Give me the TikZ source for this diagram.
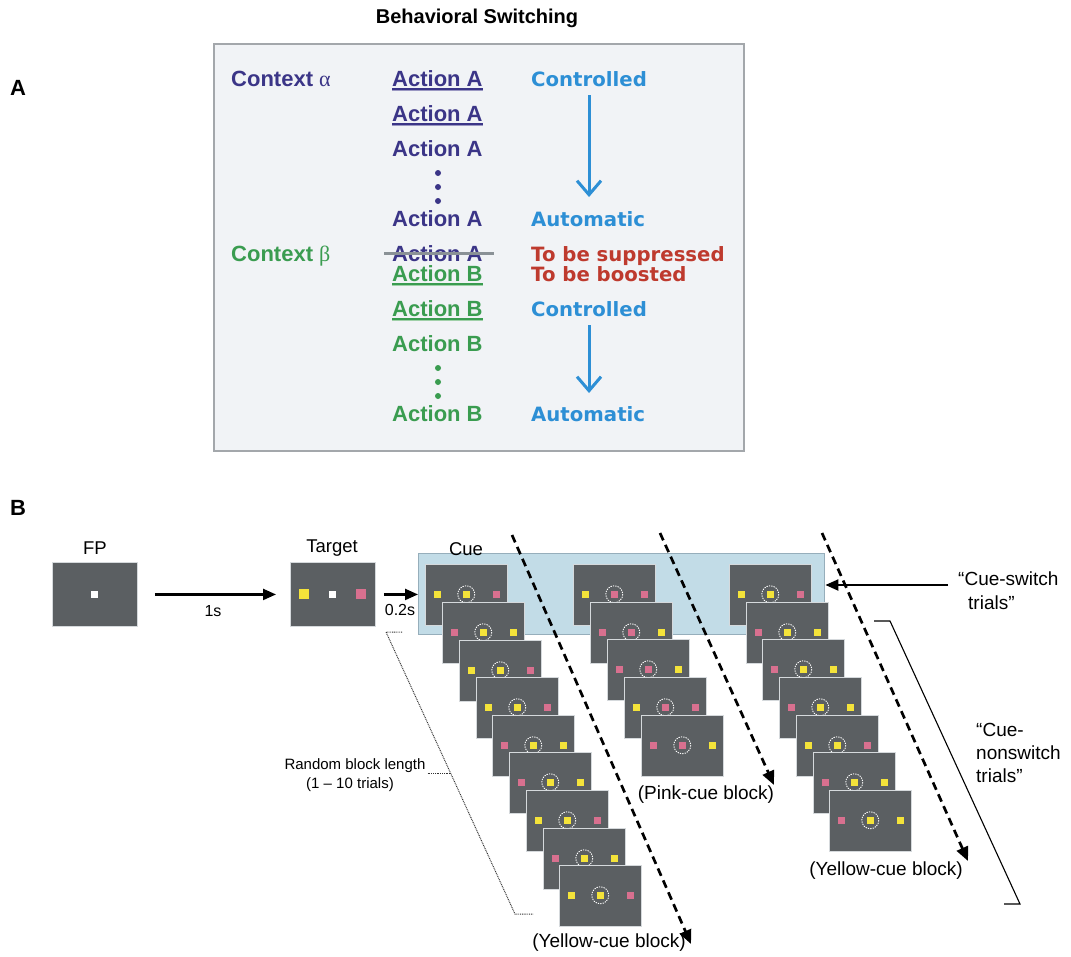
\documentclass[tikz,border=0pt]{standalone}
\usepackage{fontspec}
\setmainfont{Liberation Sans}
\newfontfamily\comic{DejaVu Sans}
\newfontfamily\greekf{Liberation Serif}
\usetikzlibrary{arrows.meta,calc}
\definecolor{apurple}{HTML}{3B3587}
\definecolor{apurplel}{HTML}{9A97C2}
\definecolor{agreen}{HTML}{3A9C50}
\definecolor{agreenl}{HTML}{9FD0A8}
\definecolor{ablue}{HTML}{2D8FD5}
\definecolor{ared}{HTML}{BE3A2E}
\definecolor{panelbg}{HTML}{F1F3F6}
\definecolor{panelbd}{HTML}{A3A7AB}
\definecolor{scrfill}{HTML}{5B5F62}
\definecolor{scrbd}{HTML}{D5D9DC}
\definecolor{cyel}{HTML}{F4E33A}
\definecolor{cpink}{HTML}{D8708F}
\definecolor{cuebg}{HTML}{C2DCE7}
\definecolor{cuebd}{HTML}{96AEBB}
\definecolor{strikec}{HTML}{8A9196}
\colorlet{Y}{cyel}
\colorlet{P}{cpink}
\tikzset{
  hdr/.style={font=\fontsize{20}{24}\selectfont\bfseries, inner sep=0},
  actstyle/.style={font=\fontsize{22}{26}\selectfont\bfseries, anchor=base west, inner sep=0},
  ctlstyle/.style={font=\comic\fontsize{19.7}{24}\selectfont\bfseries, anchor=base west, inner sep=0},
  lbl/.style={font=\fontsize{19}{23}\selectfont, inner sep=0},
  smalllbl/.style={font=\fontsize{15}{18}\selectfont, inner sep=0},
  screen/.style={draw=scrbd, fill=scrfill, line width=0.9pt, minimum width=82pt, minimum height=61pt, inner sep=0, anchor=north west},
  bigscreen/.style={draw=scrbd, fill=scrfill, line width=0.9pt, minimum width=85pt, minimum height=64pt, inner sep=0, anchor=north west},
  cuering/.style={draw=white, line width=0.9pt, dash pattern=on 1.3pt off 1.1pt},
  barrow/.style={draw=ablue, line width=3pt, -{Straight Barb[length=14pt,width=24pt]}},
  solidarr/.style={draw=black, line width=2.2pt, -{Triangle[length=13pt,width=11pt]}},
  dasharr/.style={draw=black, line width=2.7pt, dash pattern=on 8pt off 5pt, -{Triangle[length=14pt,width=12pt]}},
  bracketline/.style={draw=black, line width=1.1pt},
  dotline/.style={draw=black!80, line width=1pt, dash pattern=on 0.9pt off 0.9pt},
}
\newcommand\Scr[6]{%
  \node[screen] (#1) at (#2,#3) {};
  \fill[#4] ($(#1.north west)+(8.5,26.5)$) rectangle ++(7,7);
  \fill[#5] ($(#1.north west)+(37.5,26.5)$) rectangle ++(7.5,7.5);
  \fill[#6] ($(#1.north west)+(67.5,26.5)$) rectangle ++(7,7);
  \draw[cuering] ($(#1.north west)+(41.25,30.25)$) circle[radius=8.5];
}
\begin{document}
\begin{tikzpicture}[x=1pt,y=-1pt]
\useasboundingbox (0,0) rectangle (1071,956);
% ---------- Panel A ----------
\node[hdr] (title) at (477,18) {Behavioral Switching};
\node[hdr, font=\fontsize{22}{26}\selectfont\bfseries] (labA) at (18,88) {A};
\node[hdr, font=\fontsize{22}{26}\selectfont\bfseries] (labB) at (18,508) {B};
\node[draw=panelbd, fill=panelbg, line width=1.6pt, minimum width=530pt, minimum height=407pt, anchor=north west, inner sep=0] (boxA) at (213,43) {};

\node[actstyle, text=apurple] (ctxa) at (231,86) {Context {\greekf\mdseries α}};
\node[actstyle, text=agreen] (ctxb) at (231,261) {Context {\greekf\mdseries β}};

\node[actstyle, text=apurple] (a1) at (392,86) {Action A};
\node[actstyle, text=apurple] (a2) at (392,121) {Action A};
\node[actstyle, text=apurple] (a3) at (392,156) {Action A};
\node[actstyle, text=apurple] (a4) at (392,226) {Action A};
\node[actstyle, text=apurple] (a5) at (392,261) {Action A};
\node[actstyle, text=agreen] (b1) at (392,281) {Action B};
\node[actstyle, text=agreen] (b2) at (392,316) {Action B};
\node[actstyle, text=agreen] (b3) at (392,351) {Action B};
\node[actstyle, text=agreen] (b4) at (392,421) {Action B};

% underlines
\foreach \n in {a1,a2} {
  \draw[apurple, line width=1.4pt] ($(\n.base west)+(0,3)$) -- ($(\n.base east)+(0,3)$);
  \draw[apurplel, line width=1.2pt] ($(\n.base west)+(0,4.6)$) -- ($(\n.base east)+(0,4.6)$);
}
\foreach \n in {b1,b2} {
  \draw[agreen, line width=1.4pt] ($(\n.base west)+(0,3)$) -- ($(\n.base east)+(0,3)$);
  \draw[agreenl, line width=1.2pt] ($(\n.base west)+(0,4.6)$) -- ($(\n.base east)+(0,4.6)$);
}
% strike
\draw[strikec, line width=3pt] ($(a5.base west)+(-8,-7.5)$) -- ($(a5.base east)+(11,-7.5)$);

% dots
\foreach \yy in {173,187,201} \fill[apurple] (438,\yy) circle[radius=3];
\foreach \yy in {368,382,396} \fill[agreen] (438,\yy) circle[radius=3];

\node[ctlstyle, text=ablue] (k1) at (531,86) {Controlled};
\node[ctlstyle, text=ablue] (k2) at (531,226) {Automatic};
\node[ctlstyle, text=ared] (k3) at (531,261) {To be suppressed};
\node[ctlstyle, text=ared] (k4) at (531,281) {To be boosted};
\node[ctlstyle, text=ablue] (k5) at (531,316) {Controlled};
\node[ctlstyle, text=ablue] (k6) at (531,421) {Automatic};

\draw[barrow] ($(k1.base)+(0,9)$) -- ($(k1.base |- k2.base)+(0,-29)$);
\draw[barrow] ($(k5.base)+(0,9)$) -- ($(k5.base |- k6.base)+(0,-28)$);

% ---------- Panel B ----------
\node[lbl, font=\fontsize{18.5}{22}\selectfont] (fpl) at (95,548) {FP};
\node[lbl, font=\fontsize{18.5}{22}\selectfont] (tgl) at (332,548) {Target};

\node[bigscreen] (fp) at (52,562) {};
\fill[white] ($(fp.center)+(-3.5,-3.5)$) rectangle ++(7,7);
\node[bigscreen] (tgt) at (290,562) {};
\fill[cyel] ($(tgt.center)+(-34,-5)$) rectangle ++(10,10);
\fill[white] ($(tgt.center)+(-3.5,-3.5)$) rectangle ++(7,7);
\fill[cpink] ($(tgt.center)+(23,-5)$) rectangle ++(10,10);

\draw[solidarr, shorten <=17pt, shorten >=14pt] (fp.east) -- (tgt.west);
\node[lbl, font=\fontsize{16}{19}\selectfont] (t1) at (213,611) {1s};

\node[draw=cuebd, fill=cuebg, line width=1.4pt, minimum width=406pt, minimum height=81pt, anchor=north west, inner sep=0] (cuebox) at (418,553) {};
\node[lbl, font=\fontsize{18.5}{22}\selectfont] (cul) at (466,549) {Cue};

\draw[solidarr, shorten <=8pt] (tgt.east) -- (tgt.east -| cuebox.west);
\node[lbl, font=\fontsize{16}{19}\selectfont] (t2) at (400,610) {0.2s};

% column 1
\foreach \i/\x/\y/\l/\c/\r in {1/425/564/Y/Y/P, 2/442/602/P/Y/Y, 3/459/640/Y/Y/P, 4/476/677/Y/Y/P, 5/492/715/P/Y/Y, 6/509/752/P/Y/Y, 7/526/790/Y/Y/P, 8/543/828/P/Y/Y, 9/559/865/Y/Y/P}
  {\Scr{sa\i}{\x}{\y}{\l}{\c}{\r}}
% column 2
\foreach \i/\x/\y/\l/\c/\r in {1/573/564/Y/P/P, 2/590/602/P/P/Y, 3/607/639/P/P/Y, 4/624/677/Y/P/P, 5/641/715/P/P/Y}
  {\Scr{sb\i}{\x}{\y}{\l}{\c}{\r}}
% column 3
\foreach \i/\x/\y/\l/\c/\r in {1/729/564/Y/Y/P, 2/746/602/P/Y/Y, 3/762/639/P/Y/Y, 4/779/677/P/Y/Y, 5/796/715/Y/Y/P, 6/813/752/P/Y/Y, 7/829/790/P/Y/Y}
  {\Scr{sc\i}{\x}{\y}{\l}{\c}{\r}}

% dashed block arrows
\coordinate (d1s) at (512,535); \coordinate (d1e) at (691,944);
\coordinate (d2s) at (660,533); \coordinate (d2e) at (774,785);
\coordinate (d3s) at (822,533); \coordinate (d3e) at (968,861);
\draw[dasharr] (d1s) -- (d1e);
\draw[dasharr] (d2s) -- (d2e);
\draw[dasharr] (d3s) -- (d3e);

\node[lbl] (ycb1) at (609,943) {(Yellow-cue block)};
\node[lbl] (pcb) at (706,795) {(Pink-cue block)};
\node[lbl] (ycb2) at (886,871) {(Yellow-cue block)};

% cue-switch
\node[lbl, anchor=base west] (csw1) at (958,585) {“Cue-switch};
\node[lbl, anchor=base west] (csw2) at (968,609) {trials”};
\coordinate (cswa) at (948,585);
\draw[solidarr] (cswa) -- (cswa -| cuebox.east);

% cue-nonswitch bracket
\node[lbl, anchor=base west] (cn1) at (976,736) {“Cue-};
\node[lbl, anchor=base west] (cn2) at (976,759) {nonswitch};
\node[lbl, anchor=base west] (cn3) at (976,782) {trials”};
\coordinate (br1) at (874,621); \coordinate (br2) at (890,621);
\coordinate (br3) at (1020,904); \coordinate (br4) at (1004,904);
\draw[bracketline] (br1) -- (br2) -- (br3) -- (br4);

% random block length
\node[smalllbl] (rbl) at (355,766) {Random block length};
\node[smalllbl] (rbl2) at (350,785) {(1 – 10 trials)};
\coordinate (db1) at (402,632); \coordinate (db2) at (386,632);
\coordinate (db3) at (515,914); \coordinate (db4) at (533,914);
\coordinate (dbm) at (450.5,773);
\draw[dotline] (db1) -- (db2) -- (db3) -- (db4);
\draw[dotline] (rbl.east |- dbm) ++(2,0) -- (dbm);
\end{tikzpicture}
\end{document}
